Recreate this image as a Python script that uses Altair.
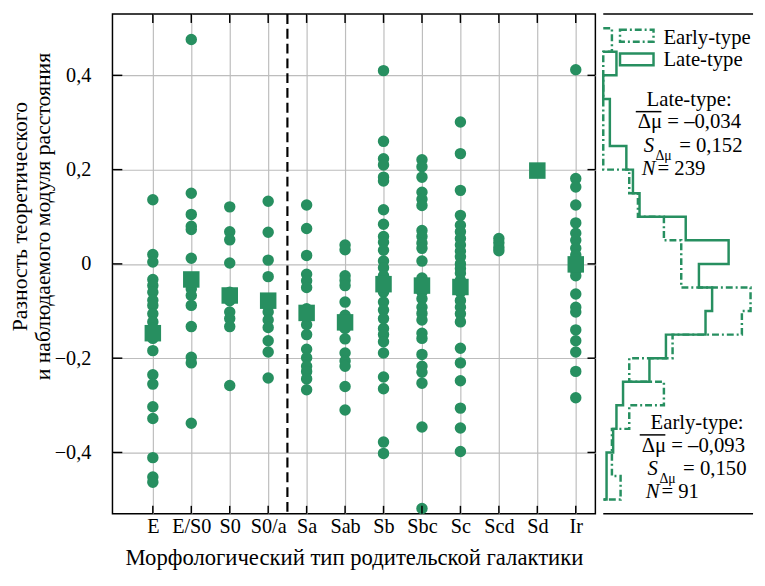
import json
import altair as alt
import pandas as pd

# ---------------- data ----------------
categories = ["E", "E/S0", "S0", "S0/a", "Sa", "Sab", "Sb", "Sbc", "Sc", "Scd", "Sd", "Ir"]

vals_E = [0.136, 0.020, 0.004, -0.033, -0.046, -0.060, -0.077, -0.088, -0.106, -0.123,
          -0.137, -0.158, -0.184, -0.235, -0.255, -0.303, -0.328, -0.411, -0.452, -0.463]
vals_ES0 = [0.476, 0.150, 0.105, 0.080, 0.073, 0.012, -0.040, -0.053, -0.067, -0.088,
            -0.133, -0.198, -0.210, -0.338]
vals_S0 = [0.121, 0.068, 0.051, 0.002, -0.060, -0.078, -0.102, -0.116, -0.133, -0.258]
vals_S0a = [0.133, 0.067, 0.008, -0.027, -0.090, -0.102, -0.119, -0.135, -0.163, -0.187, -0.242]
vals_Sa = [0.125, 0.075, 0.018, -0.022, -0.036, -0.050, -0.095, -0.115, -0.129, -0.150,
           -0.181, -0.199, -0.217, -0.228, -0.244, -0.267]
vals_Sab = [0.040, 0.030, -0.025, -0.035, -0.046, -0.081, -0.109, -0.137, -0.159, -0.189,
            -0.206, -0.217, -0.260, -0.310]
vals_Sb = [0.410, 0.260, 0.223, 0.210, 0.184, 0.176, 0.115, 0.084, 0.058, 0.046, 0.029,
           0.006, -0.008, -0.025, -0.060, -0.081, -0.098, -0.116, -0.137, -0.150, -0.165,
           -0.189, -0.240, -0.265, -0.378, -0.402]
vals_Sbc = [0.221, 0.206, 0.184, 0.152, 0.137, 0.124, 0.071, 0.058, 0.044, 0.033, 0.006,
            -0.030, -0.060, -0.074, -0.092, -0.105, -0.119, -0.147, -0.158, -0.192, -0.217,
            -0.230, -0.253, -0.346, -0.519]
vals_Sc = [0.301, 0.234, 0.156, 0.103, 0.082, 0.068, 0.054, 0.040, 0.027, 0.015, 0.000,
           -0.010, -0.020, -0.035, -0.060, -0.078, -0.092, -0.106, -0.123, -0.179, -0.210,
           -0.248, -0.306, -0.348, -0.398]
vals_Scd = [0.054, 0.045, 0.035, 0.028]
vals_Sd = [0.198]
vals_Ir = [0.412, 0.181, 0.163, 0.125, 0.087, 0.065, 0.050, 0.033, 0.019, 0.010, -0.005,
           -0.015, -0.025, -0.064, -0.092, -0.102, -0.140, -0.163, -0.187, -0.228, -0.284]

point_lists = [vals_E, vals_ES0, vals_S0, vals_S0a, vals_Sa, vals_Sab, vals_Sb,
               vals_Sbc, vals_Sc, vals_Scd, vals_Sd, vals_Ir]

mean_cats = ["E", "E/S0", "S0", "S0/a", "Sa", "Sab", "Sb", "Sbc", "Sc", "Sd", "Ir"]
mean_vals = [-0.147, -0.033, -0.067, -0.078, -0.104, -0.124, -0.043, -0.046, -0.049, 0.198, -0.001]

# histogram: bins of 0.05 from -0.5 to 0.5 (lower edges, bottom -> top)
bin_lower = [-0.50, -0.45, -0.40, -0.35, -0.30, -0.25, -0.20, -0.15, -0.10, -0.05,
             0.00, 0.05, 0.10, 0.15, 0.20, 0.25, 0.30, 0.35, 0.40, 0.45]
bin_width = 0.05
early_counts = [2, 1, 1, 3, 7, 3, 8, 16, 17, 9, 9, 7, 4, 3, 0, 0, 0, 0, 0, 1]
late_counts = [1, 1, 3, 4, 6, 14, 19, 31, 33, 29, 38, 25, 11, 9, 7, 2, 2, 0, 4, 0]

late_stats = {"mean": "–0,034", "std": "0,152", "n": "239"}
early_stats = {"mean": "–0,093", "std": "0,150", "n": "91"}

ytick_vals = [-0.4, -0.2, 0.0, 0.2, 0.4]
ytick_labels = ["−0,4", "−0,2", "0", "0,2", "0,4"]
divider_between = ("S0/a", "Sa")

# ---------------- style ----------------
GREEN = "#278f60"
FONT = "Liberation Serif"
W_L, W_R, H = 490, 152, 507
Y_DOM = [-0.53, 0.53]
X_DOM = [-0.05, 12.51]
HX_DOM = [0, 0.19]
TXT = 21

pos = list(range(1, len(categories) + 1))
cat_pos = dict(zip(categories, pos))

pts = pd.DataFrame(
    [{"pos": cat_pos[c], "val": v} for c, lst in zip(categories, point_lists) for v in lst]
)
means = pd.DataFrame({"pos": [cat_pos[c] for c in mean_cats], "val": mean_vals})

yscale = alt.Scale(domain=Y_DOM, nice=False, zero=False)
xscale = alt.Scale(domain=X_DOM, nice=False, zero=False)

xlabel_expr = json.dumps(categories, ensure_ascii=False) + "[datum.value - 1]"
ylabel_expr = " : ".join(
    f"abs(datum.value - ({v})) < 0.001 ? '{l}'" for v, l in zip(ytick_vals, ytick_labels)
) + " : ''"

x_axis = alt.Axis(
    values=pos, labelExpr=xlabel_expr, title="Морфологический тип родительской галактики",
    grid=True, gridColor="#bdbdbd", gridWidth=1.2, ticks=False, domain=False,
    labelFont=FONT, labelFontSize=20.5, labelColor="black", labelPadding=3,
    labelFlush=False, labelOverlap=False,
    titleFont=FONT, titleFontSize=23, titleFontWeight="normal", titleColor="black",
    titlePadding=10,
)
y_axis = alt.Axis(
    values=ytick_vals, labelExpr=ylabel_expr,
    title=["Разность теоретического", "и наблюдаемого модуля расстояния"],
    grid=True, gridColor="#bdbdbd", gridWidth=1.2, ticks=False, domain=False,
    labelFont=FONT, labelFontSize=20.5, labelColor="black", labelPadding=22,
    titleFont=FONT, titleFontSize=22, titleFontWeight="normal", titleColor="black",
    titleLineHeight=23, titlePadding=0, titleY=205,
)

X = alt.X("pos:Q", scale=xscale, axis=x_axis)
Y = alt.Y("val:Q", scale=yscale, axis=y_axis)

circles = alt.Chart(pts).mark_circle(size=135, color=GREEN, opacity=1).encode(x=X, y=Y)
squares = alt.Chart(means).mark_square(size=280, color=GREEN, opacity=1).encode(x=X, y=Y)
div_pos = (cat_pos[divider_between[0]] + cat_pos[divider_between[1]]) / 2
divider = alt.Chart(pd.DataFrame({"pos": [div_pos]})).mark_rule(
    color="black", strokeWidth=2.2, strokeDash=[10, 5]
).encode(x=X)

ydf = pd.DataFrame({"val": ytick_vals})
xdf = pd.DataFrame({"pos": pos})
tk = dict(color="black", strokeWidth=1.5)
tick_left = alt.Chart(ydf).mark_rule(**tk).encode(y=Y, x=alt.value(0), x2=alt.value(10))
tick_right = alt.Chart(ydf).mark_rule(**tk).encode(y=Y, x=alt.value(W_L - 8), x2=alt.value(W_L))
tick_top = alt.Chart(xdf).mark_rule(**tk).encode(x=X, y=alt.value(0), y2=alt.value(9))
tick_bot = alt.Chart(xdf).mark_rule(**tk).encode(x=X, y=alt.value(H - 8), y2=alt.value(H))

left = alt.layer(circles, divider, squares, tick_left, tick_right, tick_top, tick_bot).properties(
    width=W_L, height=H
)


# ---------------- histogram outlines ----------------
def outline(counts):
    n = sum(counts)
    nz = [i for i, c in enumerate(counts) if c > 0]
    lo_i, hi_i = nz[0], nz[-1]
    rows = [(0.0, bin_lower[hi_i] + bin_width)]
    for i in range(hi_i, lo_i - 1, -1):
        f = counts[i] / n
        rows.append((f, bin_lower[i] + bin_width))
        rows.append((f, bin_lower[i]))
    rows.append((0.0, bin_lower[lo_i]))
    return pd.DataFrame({"frac": [r[0] for r in rows], "val": [r[1] for r in rows],
                         "order": list(range(len(rows)))})


hx = alt.Scale(domain=HX_DOM, nice=False, zero=False)
early_line = alt.Chart(outline(early_counts)).mark_line(
    color=GREEN, strokeWidth=2.5, strokeDash=[7, 3, 2, 3]
).encode(
    x=alt.X("frac:Q", scale=hx, axis=None),
    y=alt.Y("val:Q", scale=yscale, axis=None),
    order="order:Q",
)
late_line = alt.Chart(outline(late_counts)).mark_line(
    color=GREEN, strokeWidth=2.5
).encode(
    x=alt.X("frac:Q", scale=hx, axis=None),
    y=alt.Y("val:Q", scale=yscale, axis=None),
    order="order:Q",
)

dummy = pd.DataFrame({"a": [0]})


def rule(x, x2, y, y2, width=1.5):
    return alt.Chart(dummy).mark_rule(color="black", strokeWidth=width).encode(
        x=alt.value(x), x2=alt.value(x2), y=alt.value(y), y2=alt.value(y2))


def txt(s, x, y, size=TXT, italic=False):
    return alt.Chart(dummy).mark_text(
        text=s, font=FONT, fontSize=size, color="black", align="left",
        baseline="alphabetic", fontStyle="italic" if italic else "normal"
    ).encode(x=alt.value(x), y=alt.value(y))


def legend_box(y, dash):
    kw = dict(fill="transparent", stroke=GREEN, strokeWidth=2.5)
    if dash:
        kw["strokeDash"] = dash
    return alt.Chart(dummy).mark_rect(**kw).encode(
        x=alt.value(17), x2=alt.value(51), y=alt.value(y), y2=alt.value(y + 12))


def stats_block(name, st, x, y0):
    return [
        txt(name + ":", x + 9, y0),
        rule(x - 2, x + 24, y0 + 6, y0 + 6),
        txt("Δμ = " + st["mean"], x, y0 + 23),
        txt("S", x + 6, y0 + 47, italic=True),
        txt("Δμ", x + 18, y0 + 55, size=14),
        txt("= " + st["std"], x + 42, y0 + 47),
        txt("N", x + 4, y0 + 70, italic=True),
        txt("= " + st["n"], x + 20, y0 + 70),
    ]


right_layers = [
    early_line, late_line,
    rule(0, W_R, 0, 0), rule(0, W_R, H, H),
    legend_box(16, [7, 3, 2, 3]), txt("Early-type", 61, 30),
    legend_box(40, None), txt("Late-type", 61, 53),
]
right_layers += stats_block("Late-type", late_stats, 35, 93)
right_layers += stats_block("Early-type", early_stats, 39, 421)

right = alt.layer(*right_layers).properties(
    width=W_R, height=H, view=alt.ViewBackground(stroke="transparent")
)

chart = alt.hconcat(left, right, spacing=0).properties(
    padding={"left": 0, "top": 0, "right": 0, "bottom": 0}
).configure_view(stroke="black", strokeWidth=1.5)

chart.save("out.html", embed_options={"renderer": "svg", "actions": False})
